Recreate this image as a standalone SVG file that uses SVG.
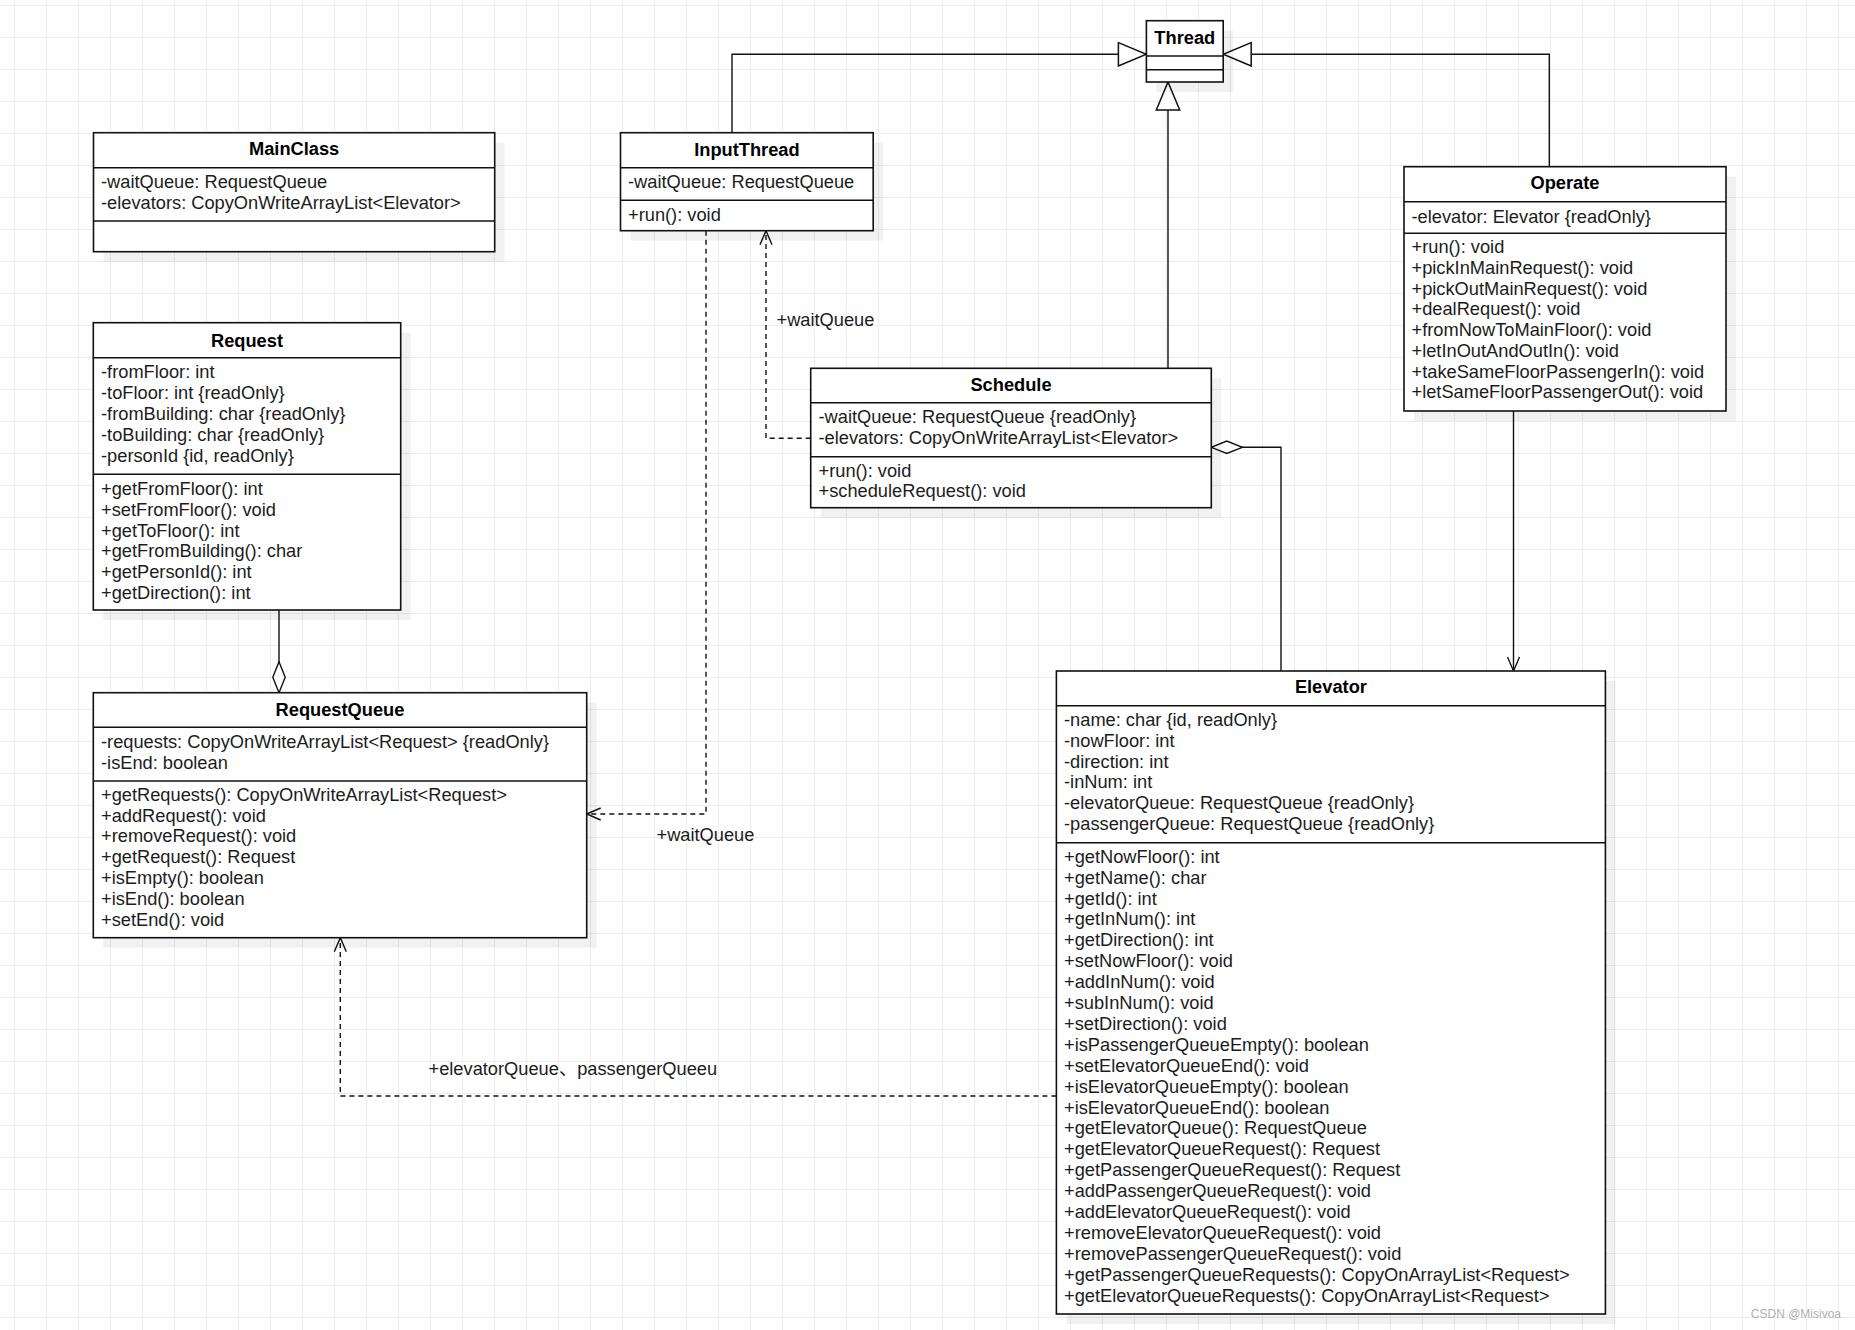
<svg xmlns="http://www.w3.org/2000/svg" width="1855" height="1330" viewBox="0 0 1855 1330">
<style>
.bg{fill:#fff}
.sh{fill:#000;opacity:.055}
.box{fill:#fff;stroke:#111;stroke-width:1.6}
.sep{stroke:#111;stroke-width:1.6}
.t{font-family:"Liberation Sans",Arial,Helvetica,sans-serif;font-size:18.25px;fill:#1c1c1c}
.h{font-weight:bold;text-anchor:middle;fill:#000}
.lbl{font-family:"Liberation Sans",Arial,"Noto Sans CJK SC",sans-serif;font-size:18.25px;fill:#1c1c1c}
.e{fill:none;stroke:#111;stroke-width:1.4}
.d{stroke-dasharray:5 4}
.wm{font-family:"Liberation Sans",Arial,sans-serif;font-size:12px;fill:#b0b0b0;text-anchor:end}
</style>
<defs>
<pattern id="grid" x="14" y="5" width="32" height="32" patternUnits="userSpaceOnUse">
<path d="M32 0.5H0.5V32" fill="none" stroke="#ececec" stroke-width="1"/>
</pattern>
<marker id="tri" viewBox="0 0 30 26" refX="29" refY="13" markerWidth="30" markerHeight="26" markerUnits="userSpaceOnUse" orient="auto">
<path d="M1,1.3 L29,13 L1,24.7 Z" fill="#fff" stroke="#111" stroke-width="1.5"/>
</marker>
<marker id="open" viewBox="0 0 16 14" refX="15" refY="7" markerWidth="16" markerHeight="14" markerUnits="userSpaceOnUse" orient="auto">
<path d="M1,1 L15,7 L1,13" fill="none" stroke="#111" stroke-width="1.4"/>
</marker>
<marker id="dia" viewBox="0 0 33 15" refX="32" refY="7.5" markerWidth="33" markerHeight="15" markerUnits="userSpaceOnUse" orient="auto">
<path d="M1,7.5 L16.5,1.3 L32,7.5 L16.5,13.7 Z" fill="#fff" stroke="#111" stroke-width="1.4"/>
</marker>
</defs>
<rect class="bg" x="0" y="0" width="1855" height="1330"/>
<rect x="0" y="0" width="1855" height="1330" fill="url(#grid)"/>

<g id="connectors">
<path class="e" d="M732,132.7 V54.3 H1146.4" marker-end="url(#tri)"/>
<path class="e" d="M1549.3,166.7 V54.3 H1223.2" marker-end="url(#tri)"/>
<path class="e" d="M1168,368.3 V82" marker-end="url(#tri)"/>
<path class="e d" d="M810.7,438.3 H766 V230.7" marker-end="url(#open)"/>
<path class="e d" d="M706,230.7 V814 H586.7" marker-end="url(#open)"/>
<path class="e d" d="M1056.4,1096 H340.3 V937.7" marker-end="url(#open)"/>
<path class="e" d="M279,610 V692.7" marker-end="url(#dia)"/>
<path class="e" d="M1281,671 V447.3 H1211.3" marker-end="url(#dia)"/>
<path class="e" d="M1513.5,411 V671" marker-end="url(#open)"/>
<text class="lbl" x="776.5" y="326">+waitQueue</text>
<text class="lbl" x="656.5" y="840.5">+waitQueue</text>
<text class="lbl" x="428.5" y="1075">+elevatorQueue、passengerQueeu</text>
</g>

<g id="Thread">
<rect class="sh" x="1156.4" y="30.7" width="76.8" height="61.3"/>
<rect class="box" x="1146.4" y="20.7" width="76.8" height="61.3"/>
<line class="sep" x1="1146.4" y1="56" x2="1223.2" y2="56"/>
<line class="sep" x1="1146.4" y1="69.7" x2="1223.2" y2="69.7"/>
<text class="t h" x="1184.8" y="44.3">Thread</text>
</g>

<g id="MainClass">
<rect class="sh" x="103.5" y="142.7" width="401.2" height="119"/>
<rect class="box" x="93.5" y="132.7" width="401.2" height="119"/>
<line class="sep" x1="93.5" y1="167.7" x2="494.7" y2="167.7"/>
<line class="sep" x1="93.5" y1="221" x2="494.7" y2="221"/>
<text class="t h" x="294.1" y="155.3">MainClass</text>
<text class="t" x="101" y="188.3">-waitQueue: RequestQueue<tspan x="101" dy="21">-elevators: CopyOnWriteArrayList&lt;Elevator&gt;</tspan></text>
</g>

<g id="InputThread">
<rect class="sh" x="630.5" y="142.7" width="252.7" height="98"/>
<rect class="box" x="620.5" y="132.7" width="252.7" height="98"/>
<line class="sep" x1="620.5" y1="167.7" x2="873.2" y2="167.7"/>
<line class="sep" x1="620.5" y1="200.3" x2="873.2" y2="200.3"/>
<text class="t h" x="746.9" y="155.8">InputThread</text>
<text class="t" x="628" y="188.3">-waitQueue: RequestQueue</text>
<text class="t" x="628" y="221">+run(): void</text>
</g>

<g id="Operate">
<rect class="sh" x="1414" y="176.7" width="322" height="244.3"/>
<rect class="box" x="1404" y="166.7" width="322" height="244.3"/>
<line class="sep" x1="1404" y1="201.7" x2="1726" y2="201.7"/>
<line class="sep" x1="1404" y1="233.3" x2="1726" y2="233.3"/>
<text class="t h" x="1565" y="189.3">Operate</text>
<text class="t" x="1411.5" y="222.7">-elevator: Elevator {readOnly}</text>
<text class="t" x="1411.5" y="253.3">+run(): void<tspan x="1411.5" dy="20.7">+pickInMainRequest(): void</tspan><tspan x="1411.5" dy="20.7">+pickOutMainRequest(): void</tspan><tspan x="1411.5" dy="20.7">+dealRequest(): void</tspan><tspan x="1411.5" dy="20.7">+fromNowToMainFloor(): void</tspan><tspan x="1411.5" dy="20.7">+letInOutAndOutIn(): void</tspan><tspan x="1411.5" dy="20.7">+takeSameFloorPassengerIn(): void</tspan><tspan x="1411.5" dy="20.7">+letSameFloorPassengerOut(): void</tspan></text>
</g>

<g id="Request">
<rect class="sh" x="103.3" y="332.7" width="307.4" height="287.3"/>
<rect class="box" x="93.3" y="322.7" width="307.4" height="287.3"/>
<line class="sep" x1="93.3" y1="357.7" x2="400.7" y2="357.7"/>
<line class="sep" x1="93.3" y1="474.3" x2="400.7" y2="474.3"/>
<text class="t h" x="247" y="346.7">Request</text>
<text class="t" x="101" y="378.3">-fromFloor: int<tspan x="101" dy="20.8">-toFloor: int {readOnly}</tspan><tspan x="101" dy="20.8">-fromBuilding: char {readOnly}</tspan><tspan x="101" dy="20.8">-toBuilding: char {readOnly}</tspan><tspan x="101" dy="20.8">-personId {id, readOnly}</tspan></text>
<text class="t" x="101" y="495">+getFromFloor(): int<tspan x="101" dy="20.8">+setFromFloor(): void</tspan><tspan x="101" dy="20.8">+getToFloor(): int</tspan><tspan x="101" dy="20.8">+getFromBuilding(): char</tspan><tspan x="101" dy="20.8">+getPersonId(): int</tspan><tspan x="101" dy="20.8">+getDirection(): int</tspan></text>
</g>

<g id="RequestQueue">
<rect class="sh" x="103.3" y="702.7" width="493.4" height="245"/>
<rect class="box" x="93.3" y="692.7" width="493.4" height="245"/>
<line class="sep" x1="93.3" y1="727.3" x2="586.7" y2="727.3"/>
<line class="sep" x1="93.3" y1="781" x2="586.7" y2="781"/>
<text class="t h" x="340" y="715.7">RequestQueue</text>
<text class="t" x="101" y="748.3">-requests: CopyOnWriteArrayList&lt;Request&gt; {readOnly}<tspan x="101" dy="20.7">-isEnd: boolean</tspan></text>
<text class="t" x="101" y="800.7">+getRequests(): CopyOnWriteArrayList&lt;Request&gt;<tspan x="101" dy="20.8">+addRequest(): void</tspan><tspan x="101" dy="20.8">+removeRequest(): void</tspan><tspan x="101" dy="20.8">+getRequest(): Request</tspan><tspan x="101" dy="20.8">+isEmpty(): boolean</tspan><tspan x="101" dy="20.8">+isEnd(): boolean</tspan><tspan x="101" dy="20.8">+setEnd(): void</tspan></text>
</g>

<g id="Schedule">
<rect class="sh" x="820.7" y="378.3" width="400.6" height="139.4"/>
<rect class="box" x="810.7" y="368.3" width="400.6" height="139.4"/>
<line class="sep" x1="810.7" y1="402.7" x2="1211.3" y2="402.7"/>
<line class="sep" x1="810.7" y1="456.7" x2="1211.3" y2="456.7"/>
<text class="t h" x="1011" y="390.7">Schedule</text>
<text class="t" x="818.5" y="423.3">-waitQueue: RequestQueue {readOnly}<tspan x="818.5" dy="20.7">-elevators: CopyOnWriteArrayList&lt;Elevator&gt;</tspan></text>
<text class="t" x="818.5" y="476.7">+run(): void<tspan x="818.5" dy="20.5">+scheduleRequest(): void</tspan></text>
</g>

<g id="Elevator">
<rect class="sh" x="1066.4" y="681" width="549" height="643"/>
<rect class="box" x="1056.4" y="671" width="549" height="643"/>
<line class="sep" x1="1056.4" y1="705.7" x2="1605.4" y2="705.7"/>
<line class="sep" x1="1056.4" y1="842.7" x2="1605.4" y2="842.7"/>
<text class="t h" x="1330.9" y="693.3">Elevator</text>
<text class="t" x="1064" y="725.7">-name: char {id, readOnly}<tspan x="1064" dy="20.9">-nowFloor: int</tspan><tspan x="1064" dy="20.9">-direction: int</tspan><tspan x="1064" dy="20.9">-inNum: int</tspan><tspan x="1064" dy="20.9">-elevatorQueue: RequestQueue {readOnly}</tspan><tspan x="1064" dy="20.9">-passengerQueue: RequestQueue {readOnly}</tspan></text>
<text class="t" x="1064" y="862.7">+getNowFloor(): int<tspan x="1064" dy="20.9">+getName(): char</tspan><tspan x="1064" dy="20.9">+getId(): int</tspan><tspan x="1064" dy="20.9">+getInNum(): int</tspan><tspan x="1064" dy="20.9">+getDirection(): int</tspan><tspan x="1064" dy="20.9">+setNowFloor(): void</tspan><tspan x="1064" dy="20.9">+addInNum(): void</tspan><tspan x="1064" dy="20.9">+subInNum(): void</tspan><tspan x="1064" dy="20.9">+setDirection(): void</tspan><tspan x="1064" dy="20.9">+isPassengerQueueEmpty(): boolean</tspan><tspan x="1064" dy="20.9">+setElevatorQueueEnd(): void</tspan><tspan x="1064" dy="20.9">+isElevatorQueueEmpty(): boolean</tspan><tspan x="1064" dy="20.9">+isElevatorQueueEnd(): boolean</tspan><tspan x="1064" dy="20.9">+getElevatorQueue(): RequestQueue</tspan><tspan x="1064" dy="20.9">+getElevatorQueueRequest(): Request</tspan><tspan x="1064" dy="20.9">+getPassengerQueueRequest(): Request</tspan><tspan x="1064" dy="20.9">+addPassengerQueueRequest(): void</tspan><tspan x="1064" dy="20.9">+addElevatorQueueRequest(): void</tspan><tspan x="1064" dy="20.9">+removeElevatorQueueRequest(): void</tspan><tspan x="1064" dy="20.9">+removePassengerQueueRequest(): void</tspan><tspan x="1064" dy="20.9">+getPassengerQueueRequests(): CopyOnArrayList&lt;Request&gt;</tspan><tspan x="1064" dy="20.9">+getElevatorQueueRequests(): CopyOnArrayList&lt;Request&gt;</tspan></text>
</g>

<text class="wm" x="1841" y="1318">CSDN @Misivoa</text>
</svg>
